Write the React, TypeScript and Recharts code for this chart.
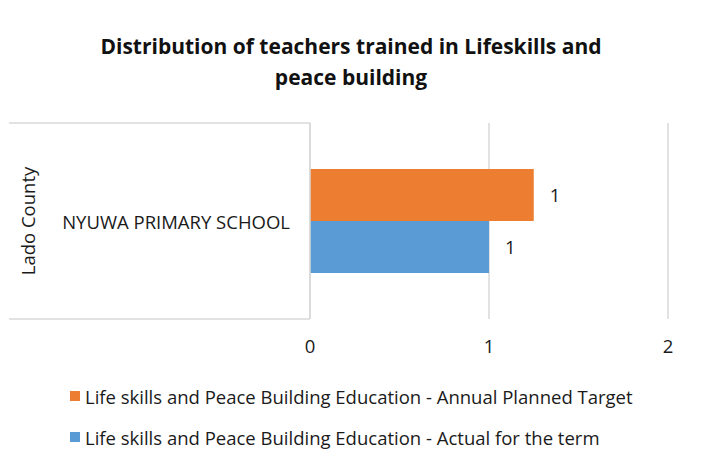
import React from "react";
import {
  BarChart,
  Bar,
  XAxis,
  YAxis,
  CartesianGrid,
  LabelList,
  usePlotArea,
} from "recharts";

const counties = ["Lado County"];
const schools = ["NYUWA PRIMARY SCHOOL"];
const plannedTarget = [1.25];
const actualForTerm = [1];
const xTicks = [0, 1, 2];

const seriesNames = [
  "Life skills and Peace Building Education - Annual Planned Target",
  "Life skills and Peace Building Education - Actual for the term",
];
const seriesColors = ["#ED7D31", "#5B9BD5"];

const data = schools.map((school, i) => ({
  school,
  county: counties[i],
  target: plannedTarget[i],
  actual: actualForTerm[i],
}));

const FONT = "Open Sans, Noto Sans, sans-serif";
const GRID = "#d9d9d9";
const TEXT = "#1a1a1a";
const FS = 18.5;

// category box lines to the left of the plot (top/bottom edges)
const CategoryBox = () => {
  const area = usePlotArea();
  if (!area) return null;
  const left = 9;
  return (
    <g>
      <line x1={left} x2={area.x} y1={area.y} y2={area.y} stroke={GRID} strokeWidth={1.5} />
      <line
        x1={left}
        x2={area.x}
        y1={area.y + area.height}
        y2={area.y + area.height}
        stroke={GRID}
        strokeWidth={1.5}
      />
    </g>
  );
};

const SchoolTick = (props: any) => {
  const { x, y, payload, index } = props;
  const county = data[index]?.county ?? "";
  return (
    <g>
      <text
        x={x - 12}
        y={y}
        textAnchor="end"
        dominantBaseline="central"
        fontSize={FS}
        fontFamily={FONT}
        fill={TEXT}
      >
        {payload.value}
      </text>
      <text
        x={27}
        y={y}
        transform={`rotate(-90, 27, ${y})`}
        textAnchor="middle"
        dominantBaseline="central"
        fontSize={FS}
        fontFamily={FONT}
        fill={TEXT}
      >
        {county}
      </text>
    </g>
  );
};

export default function App() {
  return (
    <div
      style={{
        position: "absolute",
        left: 0,
        top: 0,
        width: 702,
        height: 468,
        background: "#fff",
        fontFamily: FONT,
      }}
    >
      <div
        style={{
          position: "absolute",
          top: 31,
          left: 0,
          width: 702,
          textAlign: "center",
          fontWeight: 700,
          fontSize: 21,
          lineHeight: "31px",
          color: "#111",
        }}
      >
        Distribution of teachers trained in Lifeskills and
        <br />
        peace building
      </div>
      <BarChart
        width={702}
        height={468}
        data={data}
        layout="vertical"
        margin={{ top: 123, right: 34, left: 10, bottom: 119 }}
        barCategoryGap={46}
        barGap={0}
      >
        <CartesianGrid horizontal={false} stroke={GRID} strokeWidth={1.5} />
        <XAxis
          type="number"
          domain={[0, 2]}
          ticks={xTicks}
          axisLine={false}
          tickLine={false}
          height={30}
          tickMargin={15}
          tick={{ fontSize: FS, fill: TEXT, fontFamily: FONT }}
        />
        <YAxis
          type="category"
          dataKey="school"
          width={300}
          axisLine={{ stroke: GRID, strokeWidth: 1.5 }}
          tickLine={false}
          tick={<SchoolTick />}
        />
        <CategoryBox />
        <Bar dataKey="target" fill={seriesColors[0]} isAnimationActive={false}>
          <LabelList
            dataKey="target"
            position="right"
            offset={16}
            formatter={(v: any) => Math.round(Number(v))}
            style={{ fontSize: FS, fill: TEXT, fontFamily: FONT }}
          />
        </Bar>
        <Bar dataKey="actual" fill={seriesColors[1]} isAnimationActive={false}>
          <LabelList
            dataKey="actual"
            position="right"
            offset={16}
            formatter={(v: any) => Math.round(Number(v))}
            style={{ fontSize: FS, fill: TEXT, fontFamily: FONT }}
          />
        </Bar>
      </BarChart>
      {seriesNames.map((name, i) => (
        <div
          key={name}
          style={{
            position: "absolute",
            left: 70,
            top: 383 + i * 41,
            height: 26,
            display: "flex",
            alignItems: "center",
            fontSize: FS,
            color: TEXT,
          }}
        >
          <span
            style={{
              display: "inline-block",
              width: 10,
              height: 10,
              background: seriesColors[i],
              marginRight: 5,
            }}
          />
          {name}
        </div>
      ))}
    </div>
  );
}
